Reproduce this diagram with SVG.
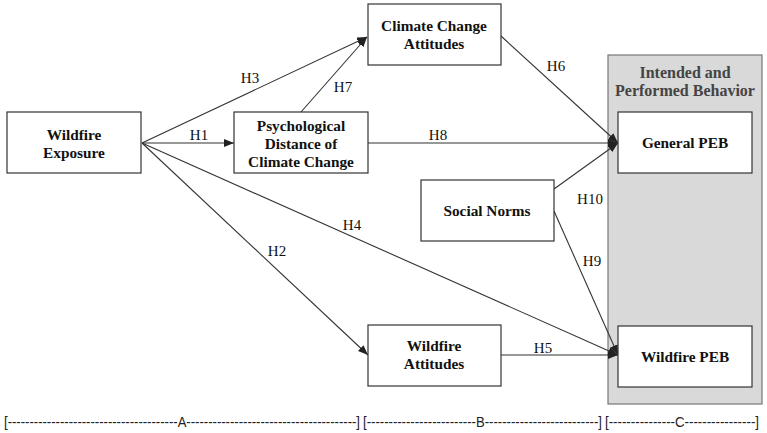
<svg xmlns="http://www.w3.org/2000/svg" width="767" height="433" viewBox="0 0 767 433">
<style>
.box{fill:#fff;stroke:#333;stroke-width:1.2}
.nt{font-family:"Liberation Serif","Times New Roman",serif;font-weight:bold;font-size:15.3px;fill:#111;text-anchor:middle}
.lb{font-family:"Liberation Serif","Times New Roman",serif;font-size:15px;fill:#111;text-anchor:middle}
.ln{stroke:#333;stroke-width:1.1;fill:none;marker-end:url(#ah)}
.br{font-family:"Liberation Sans",Arial,sans-serif;font-size:14px;fill:#222}
</style>
<defs>
<marker id="ah" markerUnits="userSpaceOnUse" markerWidth="10" markerHeight="8" refX="10" refY="4" orient="auto">
<path d="M0,0 L10,4 L0,8 Z" fill="#222"/>
</marker>
</defs>
<rect width="767" height="433" fill="#fff"/>
<g id="group-behavior">
<rect x="608" y="55" width="154" height="349" fill="#d9d9d9" stroke="#777" stroke-width="1.2"/>
<text x="685" y="78" class="nt" style="fill:#444;font-size:16px">Intended and</text>
<text x="685" y="96" class="nt" style="fill:#444;font-size:16px">Performed Behavior</text>
</g>
<g id="connectors">
<line class="ln" x1="142" y1="143" x2="367" y2="37"/>
<line class="ln" x1="301" y1="112" x2="367" y2="37"/>
<line class="ln" x1="142" y1="143" x2="234" y2="143"/>
<line class="ln" x1="368" y1="143" x2="618" y2="143"/>
<line class="ln" x1="501" y1="36" x2="618" y2="143"/>
<line class="ln" x1="554" y1="189" x2="618" y2="143"/>
<line class="ln" x1="554" y1="211" x2="618" y2="355"/>
<line class="ln" x1="142" y1="143" x2="618" y2="355"/>
<line class="ln" x1="142" y1="143" x2="368" y2="355"/>
<line class="ln" x1="501" y1="355" x2="618" y2="355"/>
<text class="lb" x="250" y="83">H3</text>
<text class="lb" x="343" y="92">H7</text>
<text class="lb" x="199" y="140">H1</text>
<text class="lb" x="556" y="71">H6</text>
<text class="lb" x="438" y="140">H8</text>
<text class="lb" x="590" y="204">H10</text>
<text class="lb" x="352" y="230">H4</text>
<text class="lb" x="277" y="256">H2</text>
<text class="lb" x="592" y="266">H9</text>
<text class="lb" x="543" y="353">H5</text>
</g>
<g id="wildfire-exposure">
<rect class="box" x="7" y="112" width="134" height="61"/>
<text class="nt" x="74" y="140">Wildfire</text>
<text class="nt" x="74" y="158">Exposure</text>
</g>
<g id="psych-distance">
<rect class="box" x="234" y="112" width="134" height="61"/>
<text class="nt" x="301" y="131">Psychological</text>
<text class="nt" x="301" y="149">Distance of</text>
<text class="nt" x="301" y="167">Climate Change</text>
</g>
<g id="cc-attitudes">
<rect class="box" x="368" y="4" width="133" height="61"/>
<text class="nt" x="434" y="31">Climate Change</text>
<text class="nt" x="434" y="49">Attitudes</text>
</g>
<g id="social-norms">
<rect class="box" x="421" y="180" width="133" height="61"/>
<text class="nt" x="487" y="216">Social Norms</text>
</g>
<g id="wildfire-attitudes">
<rect class="box" x="368" y="325" width="133" height="61"/>
<text class="nt" x="434" y="351">Wildfire</text>
<text class="nt" x="434" y="369">Attitudes</text>
</g>
<g id="general-peb">
<rect class="box" x="618" y="112" width="134" height="61"/>
<text class="nt" x="685" y="148">General PEB</text>
</g>
<g id="wildfire-peb">
<rect class="box" x="618" y="326" width="134" height="61"/>
<text class="nt" x="685" y="362">Wildfire PEB</text>
</g>
<g id="sections">
<text class="br" x="4" y="427" textLength="356" lengthAdjust="spacingAndGlyphs">[---------------------------------------A---------------------------------------]</text>
<text class="br" x="363" y="427" textLength="239" lengthAdjust="spacingAndGlyphs">[-------------------------B--------------------------]</text>
<text class="br" x="605" y="427" textLength="154" lengthAdjust="spacingAndGlyphs">[---------------C----------------]</text>
</g>
</svg>
